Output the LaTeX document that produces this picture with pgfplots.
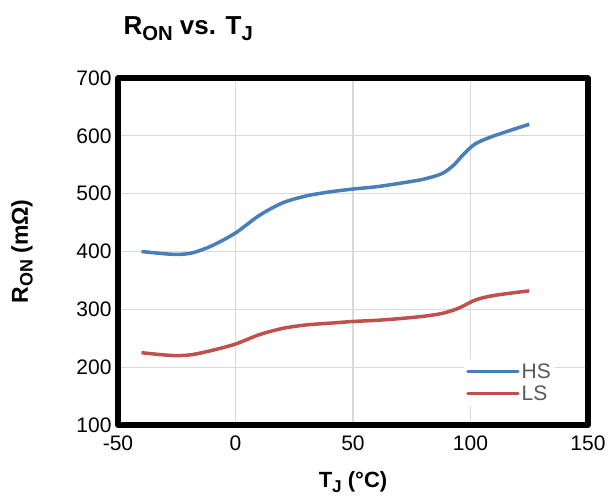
\documentclass[border=0pt]{standalone}
\usepackage{fontspec}
\setmainfont{Liberation Sans}
\usepackage{pgfplots}
\pgfplotsset{compat=1.18}
\definecolor{hsblue}{HTML}{4A7EBB}
\definecolor{lsred}{HTML}{C0504D}
\definecolor{legtext}{HTML}{595959}
\newcommand\sub[1]{\raisebox{-0.2em}{\scalebox{0.78}{#1}}}
\begin{document}
\begin{tikzpicture}
\begin{axis}[
  name=ax,
  scale only axis,
  width=470pt, height=347pt,
  xmin=-50, xmax=150, ymin=100, ymax=700,
  xtick={-50,0,50,100,150},
  ytick={100,200,...,700},
  grid=major,
  major grid style={draw=black!15, line width=1.2pt},
  major tick length=0pt,
  axis line style={draw=none},
  /pgf/number format/assume math mode=true,
  tick label style={font=\fontsize{21}{23}\selectfont, text=black},
  xticklabel style={yshift=-7pt},
  yticklabel style={xshift=-3pt},
  legend style={at={(0.93,0.055)}, anchor=south east, draw=none, fill=white,
    font=\fontsize{21}{23}\selectfont, text=legtext, row sep=2pt, inner sep=2pt,
    /tikz/every even column/.append style={column sep=2pt}},
  legend cell align=left,
  legend image code/.code={\draw[#1, line width=3.5pt, line cap=round] (0pt,0pt) -- (50pt,0pt);},
  clip=false,
]
\addplot[hsblue, line width=3.5pt, smooth, tension=0.5] coordinates {
(-40,400) (-30,396) (-24,395) (-18,398) (-10,410) (0,432) (10,462) (20,484) (30,496) (40,503) (50,508) (60,512) (70,518) (80,525) (88,535) (93,550) (97,568) (102,586) (110,600) (125,620)};
\addlegendentry{HS}
\addplot[lsred, line width=3.5pt, smooth, tension=0.5] coordinates {
(-40,225) (-30,221) (-24,220) (-18,222) (-10,229) (0,240) (10,256) (20,267) (30,273) (40,276) (50,279) (60,281) (70,284) (80,288) (88,293) (95,302) (102,316) (110,324) (125,332)};
\addlegendentry{LS}
\draw[line width=5.5pt, black, line join=round] (rel axis cs:0,0) rectangle (rel axis cs:1,1);
\end{axis}
\node[anchor=base west, font=\bfseries\fontsize{26}{28}\selectfont] at ([xshift=2pt,yshift=43pt]ax.north west) {R\sub{ON} vs. T\sub{J}};
\node[rotate=90, font=\bfseries\fontsize{23}{25}\selectfont] at ([xshift=-96pt]ax.west) {R\sub{ON} (mΩ)};
\node[font=\bfseries\fontsize{22}{24}\selectfont] at ([yshift=-57pt]ax.south) {T\sub{J} (\textdegree C)};
\pgfresetboundingbox
\path[use as bounding box] ([shift={(-118pt,-75pt)}]ax.south west) rectangle ([shift={(25pt,78pt)}]ax.north east);
\end{tikzpicture}
\end{document}
